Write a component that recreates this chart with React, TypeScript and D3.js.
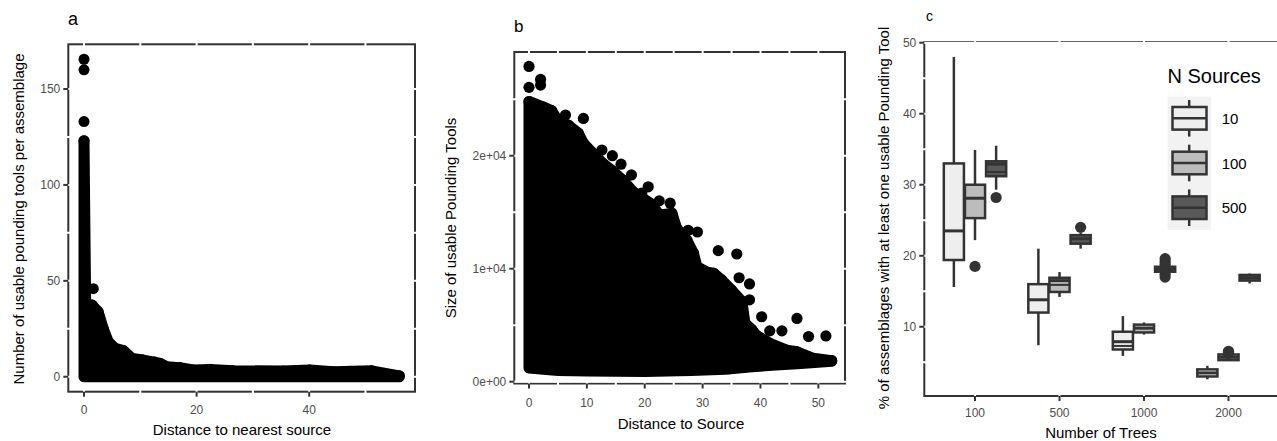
import React from 'react';
import * as d3 from 'd3';

// ---------------- Panel a: tools per assemblage vs distance ----------------
const envDistA = [0, 0.3, 1.4, 2.5, 3.4, 4.3, 5.5, 7.0, 8.5, 10.5, 12.5, 13.5, 14.7, 17.0, 19.4, 22.4, 26.5, 35.4, 40.1, 44.3, 51.1, 56.0];
const envToolsA = [123, 37, 37.4, 33.9, 25.2, 18.3, 14.8, 13.6, 9.6, 8.7, 7.6, 7.0, 5.2, 4.7, 3.5, 3.8, 3.1, 3.0, 3.5, 2.6, 3.1, 0.4];
const outDistA = [0, 0, 0, 1.65];
const outToolsA = [165.5, 160, 133, 45.9];
const aXTicks = [0, 20, 40];
const aXMinor = [10, 30, 50];
const aYTicks = [0, 50, 100, 150];
const aYMinor = [25, 75, 125];

// ---------------- Panel b: size of tools vs distance ----------------
const topDistB = [0, 2.5, 3.9, 5.1, 6.8, 8.5, 9.4, 11.1, 12.8, 14.3, 16.3, 18.0, 20.9, 22.6, 24.7, 25.5, 27.3, 28.4, 29.0, 30.7, 31.9, 33.3, 35.0, 36.8, 37.3, 38.5, 39.3, 41.6, 44.5, 46.3, 49.1, 52.3];
const topSizeB = [24800, 24300, 24000, 23000, 22700, 22000, 21100, 20200, 19300, 18700, 17800, 16800, 15800, 14750, 14900, 13600, 12500, 11400, 10200, 9700, 9600, 9000, 8100, 7100, 5200, 4600, 4100, 3400, 2800, 2650, 2070, 1860];
const lowDistB = [52.3, 47, 42, 38, 34, 28, 20, 10, 5, 0];
const lowSizeB = [1800, 1600, 1450, 1300, 1100, 1000, 900, 950, 1000, 1200];
const outDistB = [0, 0, 2.0, 2.0, 6.3, 9.4, 12.6, 14.4, 15.9, 17.7, 19.5, 20.6, 22.5, 24.4, 27.5, 29.1, 32.7, 35.9, 36.3, 38.1, 38.1, 40.2, 46.3, 48.3, 51.3, 43.7, 41.6];
const outSizeB = [27900, 26050, 26750, 26250, 23600, 23300, 20500, 20000, 19250, 18300, 16700, 17250, 16000, 15800, 13400, 13250, 11600, 11300, 9200, 8650, 7250, 5750, 5600, 4000, 4050, 4500, 4500];
const bXTicks = [0, 10, 20, 30, 40, 50];
const bXMinor = [5, 15, 25, 35, 45];
const bYTicks = [0, 10000, 20000];
const bYTickLabels = ['0e+00', '1e+04', '2e+04'];
const bYMinor = [5000, 15000, 25000];

// ---------------- Panel c: boxplots ----------------
const trees = ['100', '500', '1000', '2000'];
const sources = ['10', '100', '500'];
// rows: N Sources 10, 100, 500 ; columns: trees 100, 500, 1000, 2000
const whiskerLo = [[15.6, 7.4, 5.9, 2.6], [22.2, 14.2, 8.9, 5.3], [29.3, 21.0, 17.75, 16.1]];
const q1 = [[19.4, 12.0, 6.8, 3.0], [25.3, 14.9, 9.2, 5.3], [31.2, 21.7, 17.75, 16.5]];
const median = [[23.5, 13.8, 7.9, 3.5], [28.1, 16.5, 9.8, 5.7], [32.9, 22.4, 18.1, 16.9]];
const secondLine: (number | null)[][] = [[null, null, 7.3, null], [null, 15.9, null, null], [31.8, null, null, null]];
const q3 = [[33.0, 16.0, 9.3, 4.0], [30.0, 16.9, 10.3, 6.1], [33.3, 22.9, 18.45, 17.3]];
const whiskerHi = [[48.0, 21.0, 11.5, 4.5], [34.9, 17.7, 10.6, 6.1], [35.5, 23.2, 18.45, 17.5]];
const outliers = [
  [[], [], [], []],
  [[18.5], [], [], [6.25, 6.4, 6.55]],
  [[28.2], [24.0], [19.6, 19.2, 18.8, 17.4, 17.0], []],
];
const cYTicks = [10, 20, 30, 40, 50];
const cYMinor = [5, 15, 25, 35, 45];

const FONT = '"Liberation Sans", Arial, Helvetica, sans-serif';
const INK = '#333333';
const TICKTXT = '#4d4d4d';
const FILLS = ['#eeeeee', '#bcbcbc', '#595959'];

function App() {
  // ----- panel a scales
  const ax = d3.scaleLinear().domain([-2.79, 58.8]).range([68.3, 415]);
  const ay = d3.scaleLinear().domain([-7.8, 173.3]).range([391.7, 44.3]);
  const aPoly: [number, number][] = [[0, 0], ...envDistA.map((d, i) => [d, envToolsA[i]] as [number, number]), [envDistA[envDistA.length - 1], 0]];
  const aLine = d3.line<[number, number]>().x(d => ax(d[0])).y(d => ay(d[1])).curve(d3.curveLinearClosed);

  // ----- panel b scales
  const bx = d3.scaleLinear().domain([-2.54, 54.6]).range([514.3, 845]);
  const by = d3.scaleLinear().domain([-160, 29180]).range([383.5, 52]);
  const bPoly: [number, number][] = [
    ...topDistB.map((d, i) => [d, topSizeB[i]] as [number, number]),
    ...lowDistB.map((d, i) => [d, lowSizeB[i]] as [number, number]),
  ];
  const bLine = d3.line<[number, number]>().x(d => bx(d[0])).y(d => by(d[1])).curve(d3.curveLinearClosed);

  // ----- panel c scales
  const cx = d3.scalePoint<string>().domain(trees).range([975, 1228.5]);
  const step = cx.step();
  const cLeft = 975 - 0.6 * step;
  const cRight = 1228.5 + 0.6 * step;
  const cy = d3.scaleLinear().domain([0.25, 50.1]).range([396, 42]);
  const dodge = d3.scaleBand<string>().domain(sources).range([-0.375 * step, 0.375 * step]);
  const bw = dodge.bandwidth();

  const frame = (l: number, r: number, t: number, b: number, key: string) => (
    <rect key={key} x={l} y={t} width={r - l} height={b - t} fill="none" stroke={INK} strokeWidth={2} />
  );

  const gridV = (xs: number[], sx: (v: number) => number, t: number, b: number, k: string) =>
    xs.map((v, i) => <line key={k + i} x1={sx(v)} x2={sx(v)} y1={t - 2} y2={b + 2} stroke="#ffffff" strokeWidth={2} />);
  const gridH = (ys: number[], sy: (v: number) => number, l: number, r: number, k: string) =>
    ys.map((v, i) => <line key={k + i} x1={l - 2} x2={r + 2} y1={sy(v)} y2={sy(v)} stroke="#ffffff" strokeWidth={2} />);

  const xTicks = (vals: number[], labels: string[], sx: (v: number) => number, b: number, labY: number, k: string) =>
    vals.map((v, i) => (
      <g key={k + i}>
        <line x1={sx(v)} x2={sx(v)} y1={b} y2={b + 5} stroke={INK} strokeWidth={2} />
        <text x={sx(v)} y={labY} textAnchor="middle" dominantBaseline="central" fontSize={12} fill={TICKTXT}>{labels[i]}</text>
      </g>
    ));
  const yTicks = (vals: number[], labels: string[], sy: (v: number) => number, l: number, k: string) =>
    vals.map((v, i) => (
      <g key={k + i}>
        <line x1={l - 5} x2={l} y1={sy(v)} y2={sy(v)} stroke={INK} strokeWidth={2} />
        <text x={l - 8} y={sy(v)} textAnchor="end" dominantBaseline="central" fontSize={12} fill={TICKTXT}>{labels[i]}</text>
      </g>
    ));

  const legendY = [118.3, 163, 207.7];

  return (
    <svg width={1277} height={441} style={{ position: 'absolute', left: 0, top: 0, background: '#fff' }} fontFamily={FONT}>
      {/* ================= Panel a ================= */}
      {frame(68.3, 415, 44.3, 391.7, 'fa')}
      {gridV([...aXTicks, ...aXMinor], ax, 44.3, 391.7, 'gav')}
      {gridH([...aYTicks, ...aYMinor], ay, 68.3, 415, 'gah')}
      <path d={aLine(aPoly) || ''} fill="#000" stroke="#000" strokeWidth={11} strokeLinejoin="round" />
      {outDistA.map((d, i) => <circle key={'oa' + i} cx={ax(d)} cy={ay(outToolsA[i])} r={5.5} fill="#000" />)}
      {envDistA.map((d, i) => <circle key={'ea' + i} cx={ax(d)} cy={ay(envToolsA[i])} r={5.6} fill="#000" />)}
      {xTicks(aXTicks, aXTicks.map(String), ax, 391.7, 410, 'xta')}
      {yTicks(aYTicks, aYTicks.map(String), ay, 68.3, 'yta')}
      <text x={68} y={25} fontSize={18} fill="#000">a</text>
      <text x={242} y={429} textAnchor="middle" dominantBaseline="central" fontSize={15} fill="#000">Distance to nearest source</text>
      <text transform="translate(18,219) rotate(-90)" textAnchor="middle" dominantBaseline="central" fontSize={15} fill="#000">Number of usable pounding tools per assemblage</text>

      {/* ================= Panel b ================= */}
      {frame(514.3, 845, 52, 383.5, 'fb')}
      {gridV([...bXTicks, ...bXMinor], bx, 52, 383.5, 'gbv')}
      {gridH([...bYTicks, ...bYMinor], by, 514.3, 845, 'gbh')}
      <path d={bLine(bPoly) || ''} fill="#000" stroke="#000" strokeWidth={11} strokeLinejoin="round" />
      {topDistB.map((d, i) => <circle key={'eb' + i} cx={bx(d)} cy={by(topSizeB[i])} r={5.6} fill="#000" />)}
      {outDistB.map((d, i) => <circle key={'ob' + i} cx={bx(d)} cy={by(outSizeB[i])} r={5.6} fill="#000" />)}
      {xTicks(bXTicks, bXTicks.map(String), bx, 383.5, 402.7, 'xtb')}
      {yTicks(bYTicks, bYTickLabels, by, 514.3, 'ytb')}
      <text x={514} y={32} fontSize={17} fill="#000">b</text>
      <text x={681} y={423} textAnchor="middle" dominantBaseline="central" fontSize={15} fill="#000">Distance to Source</text>
      <text transform="translate(450,218) rotate(-90)" textAnchor="middle" dominantBaseline="central" fontSize={15} fill="#000">Size of usable Pounding Tools</text>

      {/* ================= Panel c ================= */}
      {frame(cLeft, cRight, 42, 396, 'fc')}
      {trees.map((t, i) => <line key={'gcv' + i} x1={cx(t)} x2={cx(t)} y1={40} y2={398} stroke="#fff" strokeWidth={2} />)}
      {gridH([...cYTicks, ...cYMinor], cy, cLeft, cRight, 'gch')}
      {sources.map((s, si) =>
        trees.map((t, ti) => {
          const xc = (cx(t) as number) + (dodge(s) as number) + bw / 2;
          const x0 = xc - bw / 2 + 0.5;
          const w = bw - 1;
          const sl = secondLine[si][ti];
          return (
            <g key={'bx' + si + '-' + ti}>
              <line x1={xc} x2={xc} y1={cy(whiskerHi[si][ti])} y2={cy(q3[si][ti])} stroke={INK} strokeWidth={2.5} />
              <line x1={xc} x2={xc} y1={cy(whiskerLo[si][ti])} y2={cy(q1[si][ti])} stroke={INK} strokeWidth={2.5} />
              <rect x={x0} y={cy(q3[si][ti])} width={w} height={Math.max(0.5, cy(q1[si][ti]) - cy(q3[si][ti]))} fill={FILLS[si]} stroke={INK} strokeWidth={2.5} />
              <line x1={x0} x2={x0 + w} y1={cy(median[si][ti])} y2={cy(median[si][ti])} stroke={INK} strokeWidth={3} />
              {sl !== null && <line x1={x0} x2={x0 + w} y1={cy(sl)} y2={cy(sl)} stroke={INK} strokeWidth={2} />}
              {outliers[si][ti].map((o, oi) => <circle key={oi} cx={xc} cy={cy(o)} r={5.6} fill={INK} />)}
            </g>
          );
        })
      )}
      {trees.map((t, i) => (
        <g key={'xtc' + i}>
          <line x1={cx(t)} x2={cx(t)} y1={396} y2={401} stroke={INK} strokeWidth={2} />
          <text x={cx(t)} y={413.3} textAnchor="middle" dominantBaseline="central" fontSize={12} fill={TICKTXT}>{t}</text>
        </g>
      ))}
      {yTicks(cYTicks, cYTicks.map(String), cy, cLeft, 'ytc')}
      <text x={926} y={20.7} fontSize={14} fill="#000">c</text>
      <text x={1101} y={432} textAnchor="middle" dominantBaseline="central" fontSize={15} fill="#000">Number of Trees</text>
      <text transform="translate(883,218) rotate(-90)" textAnchor="middle" dominantBaseline="central" fontSize={15} fill="#000">% of assemblages with at least one usable Pounding Tool</text>

      {/* legend */}
      <text x={1167.5} y={83} fontSize={20} fill="#000">N Sources</text>
      <rect x={1167.5} y={96.5} width={43.5} height={133.5} fill="#f2f2f2" />
      {sources.map((s, i) => (
        <g key={'lg' + i}>
          <line x1={1189.2} x2={1189.2} y1={legendY[i] - 18.3} y2={legendY[i] + 18.3} stroke={INK} strokeWidth={2.5} />
          <rect x={1172.5} y={legendY[i] - 11.3} width={34} height={22.6} fill={FILLS[i]} stroke={INK} strokeWidth={2.5} />
          <line x1={1172.5} x2={1206.5} y1={legendY[i]} y2={legendY[i]} stroke={INK} strokeWidth={2.5} />
          <text x={1221.7} y={legendY[i]} dominantBaseline="central" fontSize={15} fill="#000">{s}</text>
        </g>
      ))}
    </svg>
  );
}

export default App;
